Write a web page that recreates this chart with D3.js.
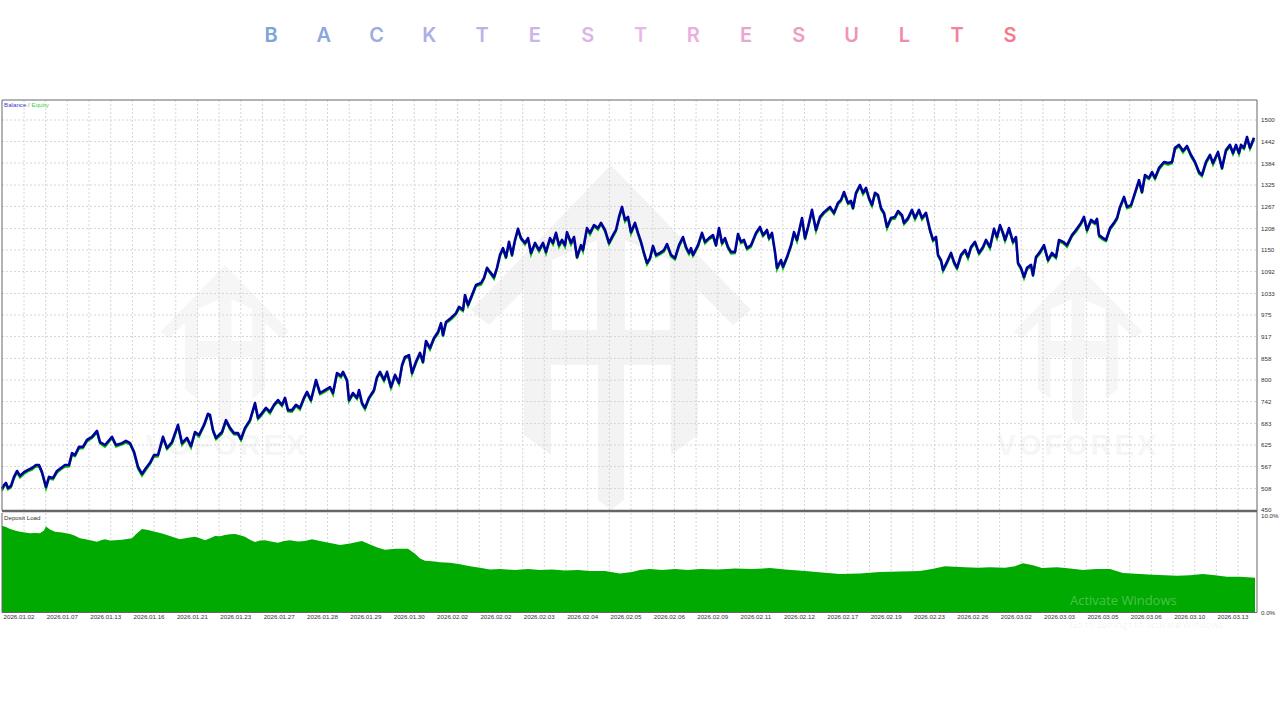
<!DOCTYPE html>
<html>
<head>
<meta charset="utf-8">
<script src="https://cdn.jsdelivr.net/npm/d3@7"></script>
<style>
  body { margin: 0; background: #fff; }
  text { font-family: "Liberation Sans", Arial, sans-serif; }
</style>
</head>
<body>
<svg id="chart" width="1280" height="720"></svg>
<script>
const titleLetters = ["B","A","C","K","T","E","S","T","R","E","S","U","L","T","S"]
const yTicks = [450,508,567,625,683,742,800,858,917,975,1033,1092,1150,1208,1267,1325,1384,1442,1500]
const dateLabels = ["2026.01.02","2026.01.07","2026.01.13","2026.01.16","2026.01.21","2026.01.23","2026.01.27","2026.01.28","2026.01.29","2026.01.30","2026.02.02","2026.02.02","2026.02.03","2026.02.04","2026.02.05","2026.02.06","2026.02.09","2026.02.11","2026.02.12","2026.02.17","2026.02.19","2026.02.23","2026.02.26","2026.03.02","2026.03.03","2026.03.05","2026.03.06","2026.03.10","2026.03.13"]

const tradeBars = [2,4,6,8,11,14,17,20,24,28,32,36,39,42,46,49,53,57,61,65,69,72,75,79,83,87,92,97,100,105,112,116,122,126,130,134,138,142,146,150,154,158,163,167,172,178,182,187,191,195,199,204,208,210,213,216,222,226,230,234,238,241,245,250,255,258,262,266,270,274,278,282,285,288,292,296,300,304,307,311,316,320,325,330,333,337,341,343,347,349,353,357,359,362,365,369,374,377,380,384,387,391,395,399,402,405,409,412,416,420,423,426,430,434,
438,441,443,446,451,456,459,463,465,468,472,476,481,484,487,490,494,497,500,503,506,509,512,515,518,521,525,528,531,535,539,543,546,550,553,556,559,562,565,567,571,574,577,581,583,587,590,594,598,601,605,609,613,616,619,622,625,628,631,635,
638,641,644,647,650,653,656,660,664,667,671,675,679,683,686,689,691,693,698,702,705,709,713,716,719,722,725,728,731,735,738,741,744,747,751,756,760,763,767,769,772,775,777,781,783,787,791,794,797,802,805,808,812,816,820,824,830,834,838,
841,844,848,851,853,856,860,863,866,869,872,875,878,881,884,887,891,895,898,902,904,908,912,915,919,922,926,930,933,936,938,941,943,947,951,954,957,961,965,968,971,975,979,983,986,990,994,997,1000,1003,1005,1009,1013,1016,1018,1021,1024,1027,1031,1033,1036,1040,
1044,1048,1052,1056,1059,1063,1067,1072,1076,1081,1084,1087,1091,1095,1097,1099,1103,1106,1110,1114,1117,1120,1124,1127,1131,1135,1139,1142,1145,1149,1152,1155,1159,1164,1168,1172,1175,1179,1183,1187,1191,1195,1199,1202,1206,1210,1213,1218,1222,1226,1230,1233,1236,1239,1241,1244,1247,1250,1254]

const balanceValues = [507,517,523,509,515,539,555,542,552,558,563,571,571,552,512,539,536,555,563,571,571,603,598,620,620,639,647,663,633,625,647,625,630,636,630,607,566,547,563,577,598,598,647,617,633,679,630,644,622,660,652,679,709,706,665,644,660,692,671,657,657,641,671,692,738,698,711,725,714,733,746,733,752,719,719,733,725,752,768,746,800,765,773,781,765,819,811,822,800,746,765,752,773,738,725,752,773,808,822,800,822,781,814,792,840,862,867,819,849,873,849,905,886,913,
929,953,921,956,967,980,997,989,1029,1002,1029,1056,1061,1075,1102,1091,1077,1102,1137,1155,1131,1172,1137,1177,1207,1182,1169,1182,1142,1169,1150,1169,1145,1182,1169,1196,1163,1177,1163,1198,1169,1185,1131,1163,1150,1209,1196,1217,1209,1223,1204,1169,1190,1204,1239,1266,1231,1239,1198,1223,
1196,1172,1142,1115,1128,1161,1137,1142,1150,1166,1137,1128,1163,1185,1158,1142,1155,1137,1163,1196,1172,1182,1190,1163,1209,1169,1182,1158,1145,1145,1193,1172,1177,1155,1163,1196,1212,1190,1204,1182,1196,1145,1102,1123,1105,1131,1163,1198,1177,1236,1182,1212,1258,1204,1239,1252,1266,1250,1277,
1285,1306,1277,1282,1263,1304,1325,1304,1317,1290,1271,1304,1298,1263,1250,1212,1236,1239,1255,1244,1223,1236,1258,1236,1258,1236,1250,1204,1177,1185,1137,1123,1096,1118,1142,1118,1102,1137,1150,1131,1158,1172,1142,1158,1177,1158,1207,1185,1217,1196,1177,1209,1172,1185,1115,1102,1077,1102,1110,1083,1131,1145,
1163,1123,1142,1131,1177,1172,1163,1190,1204,1223,1239,1204,1231,1223,1234,1190,1182,1177,1209,1223,1236,1266,1293,1266,1271,1304,1338,1306,1352,1344,1360,1344,1371,1387,1384,1387,1425,1433,1417,1430,1406,1387,1360,1352,1387,1406,1384,1414,1371,1419,1433,1411,1433,1411,1433,1425,1454,1425,1452]

const equityValues = [502,513,518,505,510,534,551,537,547,554,558,567,566,548,507,534,532,550,559,566,567,598,594,615,616,634,643,658,629,620,643,620,626,631,626,603,561,542,558,573,593,594,642,613,628,675,625,640,617,656,647,675,704,702,660,640,655,688,666,653,652,637,666,688,733,694,706,721,709,729,741,729,747,715,714,729,720,748,763,742,795,761,768,777,760,815,806,818,795,742,760,748,768,734,720,748,768,804,817,796,817,777,809,788,835,858,862,815,844,869,844,901,881,909,
924,949,916,952,962,976,992,985,1024,998,1024,1052,1056,1071,1097,1087,1072,1098,1132,1151,1126,1168,1132,1173,1202,1178,1164,1178,1137,1165,1145,1165,1140,1178,1164,1192,1158,1173,1158,1194,1164,1181,1126,1159,1145,1205,1191,1213,1204,1219,1199,1165,1185,1200,1234,1262,1226,1235,1193,1219,
1191,1168,1137,1110,1124,1156,1132,1138,1145,1162,1132,1124,1158,1181,1153,1138,1150,1133,1158,1192,1167,1178,1185,1159,1204,1165,1177,1154,1140,1141,1188,1168,1172,1151,1158,1192,1207,1186,1199,1178,1191,1141,1097,1119,1100,1127,1158,1194,1172,1232,1177,1208,1253,1200,1234,1248,1261,1246,1272,
1281,1301,1273,1277,1259,1299,1321,1299,1313,1285,1267,1299,1294,1258,1246,1207,1232,1234,1251,1239,1219,1231,1254,1231,1254,1231,1246,1199,1173,1180,1133,1118,1092,1113,1138,1113,1098,1132,1146,1126,1154,1167,1138,1153,1173,1153,1203,1180,1213,1191,1173,1204,1168,1180,1111,1097,1073,1097,1106,1078,1127,1140,
1158,1119,1137,1127,1172,1168,1158,1186,1199,1219,1234,1200,1226,1219,1229,1186,1177,1173,1204,1219,1231,1262,1288,1262,1266,1300,1333,1302,1347,1340,1355,1340,1366,1383,1379,1383,1420,1429,1412,1426,1401,1383,1355,1348,1382,1402,1379,1410,1366,1415,1428,1407,1428,1407,1428,1421,1449,1421,1447]

const loadBars = [2,6,10,15,20,25,30,35,40,44,46,50,55,62,70,75,80,88,97,101,105,110,115,122,132,137,142,148,155,163,170,175,180,188,195,200,205,210,215,220,225,230,235,240,245,250,255,260,265,271,278,284,290,298,305,312,320,330,340,350,362,370,378,385,396,408,415,420,425,432,440,450,460,470,480,490,500,515,528,540,552,565,578,590,605,620,632,640,650,662,675,688,700,718,735,752,770,785,805,822,840,860,880,900,920,932,945,955,965,978,990,1005,1015,1023,1033,1042,1057,1070,1083,1096,1110,1123,1140,1153,1177,1190,1203,1215,1227,1240,1255]
const loadValues = [9.0,8.85,8.65,8.5,8.37,8.3,8.2,8.25,8.2,8.5,8.9,8.6,8.37,8.3,8.13,7.95,7.7,7.55,7.34,7.5,7.6,7.45,7.5,7.55,7.7,8.2,8.65,8.55,8.37,8.15,7.93,7.75,7.6,7.75,7.86,7.7,7.5,7.7,7.93,7.9,8.03,8.1,8.13,8.0,7.86,7.55,7.3,7.45,7.5,7.35,7.23,7.4,7.5,7.35,7.4,7.6,7.4,7.2,7.0,7.15,7.4,7.05,6.7,6.5,6.6,6.6,6.1,5.6,5.35,5.3,5.2,5.15,5.0,4.8,4.65,4.45,4.5,4.4,4.5,4.4,4.45,4.35,4.4,4.3,4.3,4.05,4.2,4.4,4.5,4.4,4.5,4.4,4.5,4.45,4.55,4.5,4.6,4.45,4.3,4.15,4.0,4.05,4.2,4.25,4.3,4.5,4.8,4.75,4.7,4.65,4.7,4.65,4.8,5.1,4.9,4.6,4.7,4.55,4.4,4.5,4.5,4.1,4.0,3.9,3.8,3.85,4.0,3.85,3.7,3.7,3.6]

const svg = d3.select("#chart")

// plot areas
const left = 2, right = 1257, top1 = 100, bottom1 = 510.5, top2 = 513, bottom2 = 612.5
const x = d3.scaleLinear().domain([2, 1257]).range([left, right])
const y = d3.scaleLinear().domain([450, 1500]).range([510, 120])
const yLoad = d3.scaleLinear().domain([0, 10]).range([bottom2, 516])
const xLabel = d3.scalePoint().domain(d3.range(dateLabels.length)).range([2, 1216])

// title, one letter at a time
const titleColor = d3.scaleLinear().domain([0, 4, 7, 14])
  .range(["#7ea3d6", "#bdb2e8", "#e8b8ea", "#f47a8e"])
const titleX = d3.scalePoint().domain(d3.range(titleLetters.length)).range([271, 1010])
svg.append("g").selectAll("text").data(titleLetters).join("text")
  .attr("x", (d, i) => titleX(i)).attr("y", 42)
  .attr("text-anchor", "middle")
  .attr("fill", (d, i) => titleColor(i))
  .style("font-family", "Inter").style("font-size", "20px").style("font-weight", 600)
  .text(d => d)

// house logo behind the grid
function addLogo(cx, cy, k, color) {
  const g = svg.append("g").attr("transform", "translate(" + cx + "," + cy + ") scale(" + k + ")")
  g.append("path").attr("d", "M0,0 L140,145 L122,160 L87,125 L87,270 L60,290 L60,200 L13,200 L13,335 L0,345 L-13,335 L-13,200 L-60,200 L-60,290 L-87,270 L-87,125 L-122,160 L-140,145 Z")
    .attr("fill", color)
  g.append("path").attr("d", "M-59,95 L-14,75 L-14,165 L-59,165 Z M14,75 L59,95 L59,165 L14,165 Z")
    .attr("fill", "#fff")
}
addLogo(611, 165, 1, "#f3f3f3")
addLogo(225, 265, 0.46, "#f6f6f6")
addLogo(1078, 265, 0.46, "#f6f6f6")
svg.selectAll(".brand").data([227, 1078]).join("text")
  .attr("x", d => d).attr("y", 455)
  .attr("text-anchor", "middle").attr("fill", "#f6f6f6")
  .style("font-size", "29px").style("font-weight", 700).style("letter-spacing", "3px")
  .text("VOFOREX")

// dotted grid
const gridX = d3.range(0, 57).map(i => 24 + i * 21.68)
const grid = svg.append("g").attr("stroke", "#d6d6d6").attr("stroke-dasharray", "2,2")
grid.selectAll(".v1").data(gridX).join("line")
  .attr("x1", d => d).attr("x2", d => d).attr("y1", top1).attr("y2", bottom1)
grid.selectAll(".v2").data(gridX).join("line")
  .attr("x1", d => d).attr("x2", d => d).attr("y1", top2).attr("y2", bottom2)
grid.selectAll(".h").data(yTicks.slice(1)).join("line")
  .attr("x1", left).attr("x2", right).attr("y1", d => y(d)).attr("y2", d => y(d))

// equity under balance
const lineOf = vals => d3.line().x((d, i) => x(tradeBars[i])).y((d, i) => y(vals[i]))(vals)
svg.append("path").attr("d", lineOf(equityValues))
  .attr("fill", "none").attr("stroke", "#00c000").attr("stroke-width", 2)
svg.append("path").attr("d", lineOf(balanceValues))
  .attr("fill", "none").attr("stroke", "#00009c").attr("stroke-width", 2.6).attr("stroke-linejoin", "round")

// deposit load
const loadArea = d3.area().x((d, i) => x(loadBars[i])).y0(bottom2).y1((d, i) => yLoad(loadValues[i]))
svg.append("path").attr("d", loadArea(loadValues)).attr("fill", "#00aa00")

// frame
const frame = svg.append("g").attr("stroke", "#666").attr("fill", "none")
frame.append("path").attr("d", "M" + left + "," + bottom1 + "V" + top1 + "H" + right + "V" + bottom2)
frame.append("path").attr("d", "M" + left + "," + top2 + "V" + bottom2 + "H" + right)
svg.append("line").attr("x1", left).attr("x2", right).attr("y1", 511).attr("y2", 511)
  .attr("stroke", "#666").attr("stroke-width", 2.6)

// axes
svg.append("g").attr("transform", "translate(" + right + ",0)")
  .call(d3.axisRight(y).tickValues(yTicks).tickSize(0).tickPadding(4).tickFormat(d3.format("d")))
svg.append("g").attr("transform", "translate(" + right + ",0)")
  .call(d3.axisRight(yLoad).tickValues([0, 10]).tickSize(0).tickPadding(4).tickFormat(d => d.toFixed(1) + "%"))
const xAxis = svg.append("g").attr("transform", "translate(0," + bottom2 + ")")
  .call(d3.axisBottom(xLabel).tickSize(0).tickPadding(2).tickFormat(i => dateLabels[i]))
xAxis.selectAll("text").attr("text-anchor", "start").attr("dx", 1)
svg.selectAll("g .domain").remove()
svg.selectAll("g .tick text").attr("fill", "#333").style("font-size", "6.2px").style("font-family", "Liberation Sans")

// legend labels
const legend = svg.append("text").attr("x", 4).attr("y", 107).style("font-size", "6.2px")
legend.append("tspan").attr("fill", "#3a3ad0").text("Balance")
legend.append("tspan").attr("fill", "#777").text(" / ")
legend.append("tspan").attr("fill", "#3fd23f").text("Equity")
svg.append("text").attr("x", 4).attr("y", 520).attr("fill", "#333").style("font-size", "6.2px").text("Deposit Load")

// windows activation text
svg.append("text").attr("x", 1070).attr("y", 605).attr("fill", "#fff").attr("fill-opacity", 0.3)
  .style("font-family", "Open Sans").style("font-size", "13px").text("Activate Windows")
svg.append("text").attr("x", 1070).attr("y", 628).attr("fill", "#000").attr("fill-opacity", 0.08)
  .style("font-family", "Open Sans").style("font-size", "9.5px").text("Go to Settings to activate Windows.")
</script>
</body>
</html>
